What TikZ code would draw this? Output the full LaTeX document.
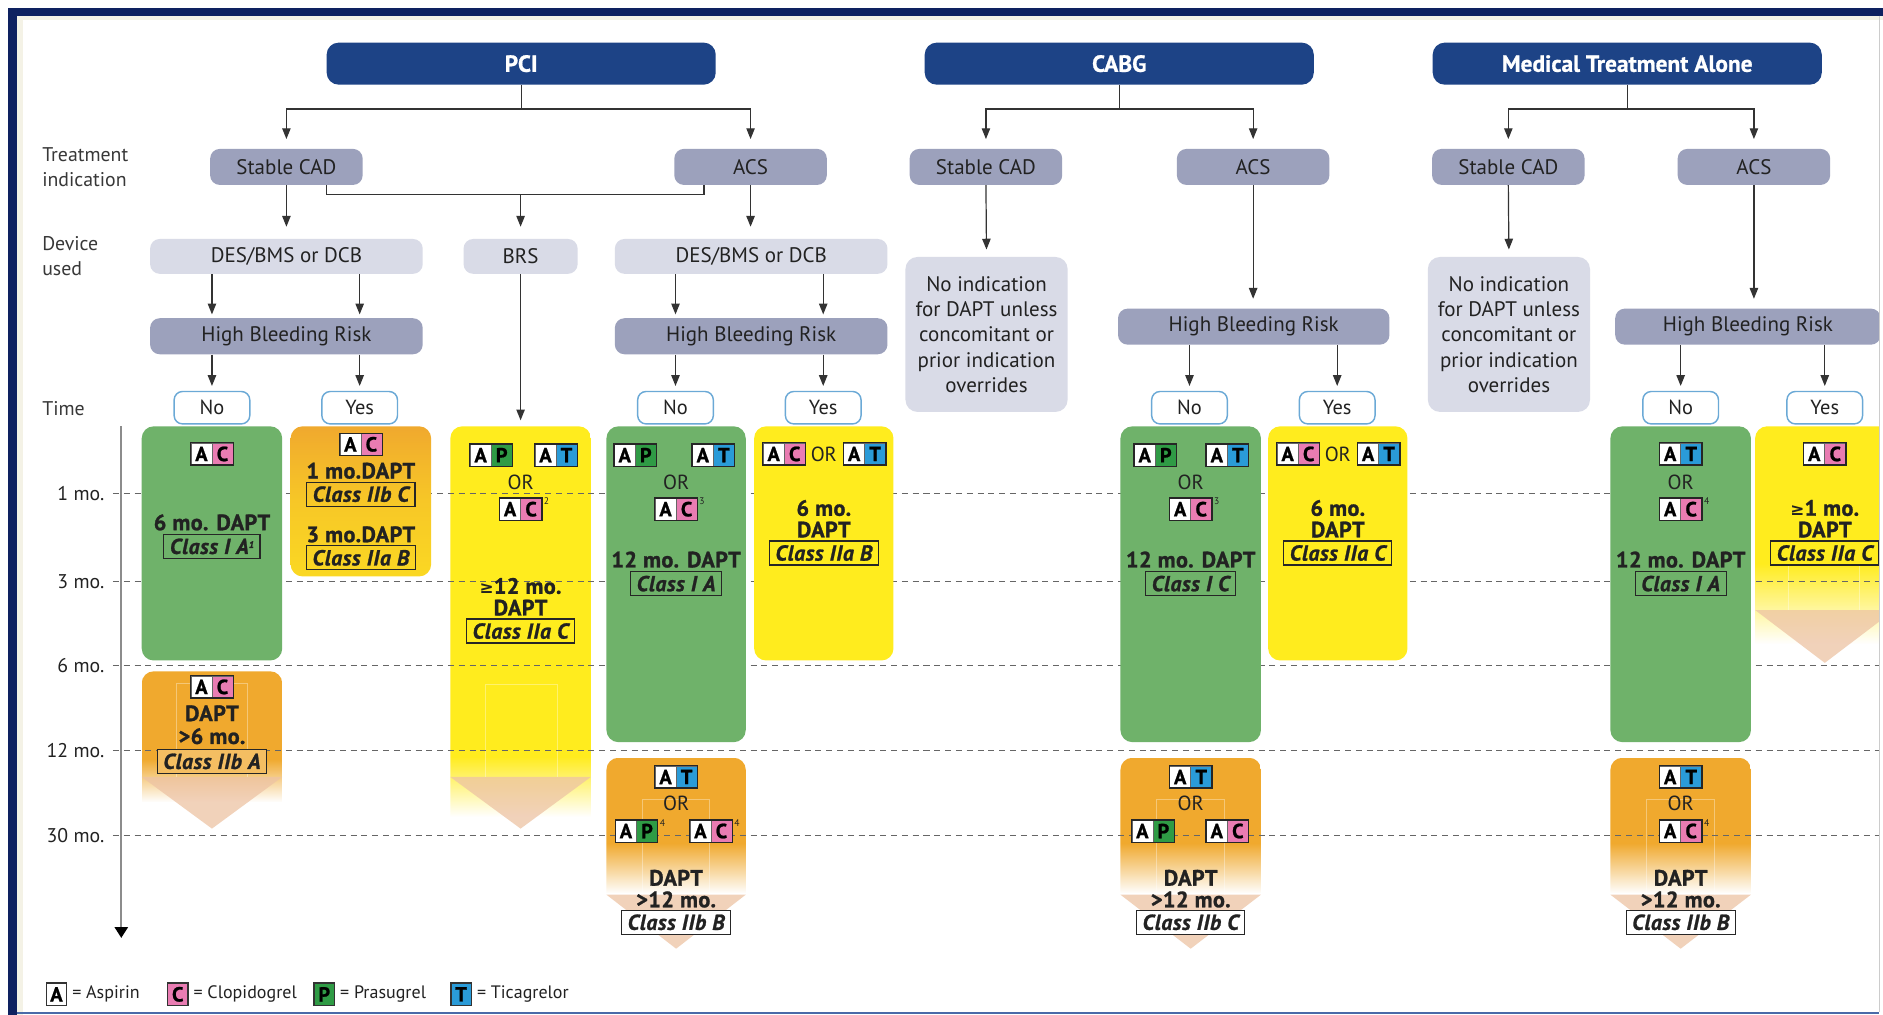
\documentclass[tikz,border=0pt]{standalone}
\usepackage{fontspec}
\setmainfont{PT Sans}
\newfontfamily\djv{DejaVu Sans}
\usetikzlibrary{arrows.meta,fadings,calc}
\definecolor{navyH}{HTML}{1D4386}
\definecolor{frameN}{HTML}{0E2160}
\definecolor{botL}{HTML}{4A6AA8}
\definecolor{greyB}{HTML}{9CA1BC}
\definecolor{greyL}{HTML}{D9DBE7}
\definecolor{ynB}{HTML}{6BA9D6}
\definecolor{grn}{HTML}{6FB26A}
\definecolor{org}{HTML}{F0A92E}
\definecolor{yel}{HTML}{FFEC1E}
\definecolor{peach}{HTML}{EDC3A4}
\definecolor{cPink}{HTML}{E97CB2}
\definecolor{cGreen}{HTML}{2F9B45}
\definecolor{cBlue}{HTML}{2A9BD8}
\definecolor{txt}{HTML}{222222}
\definecolor{lineC}{HTML}{333333}
\definecolor{cream}{HTML}{F4F2E6}
\newcommand{\fsz}[1]{\fontsize{#1}{#1}\selectfont}
\tikzfading[name=fadedown, top color=transparent!0, bottom color=transparent!100]
\tikzset{
  hdr/.style={fill=navyH, rounded corners=10pt, minimum width=324pt, minimum height=35pt, inner sep=0pt, text=white, font=\fsz{19.5}\bfseries\addfontfeatures{FakeBold=0.8}},
  tind/.style={fill=greyB, rounded corners=8pt, minimum width=127pt, minimum height=30pt, inner sep=0pt, text=txt, font=\fsz{17.5}},
  devb/.style={fill=greyL, rounded corners=8pt, minimum height=29pt, inner sep=0pt, text=txt, font=\fsz{17.5}},
  hbrb/.style={fill=greyB, rounded corners=8pt, minimum height=30pt, inner sep=0pt, text=txt, font=\fsz{17.5}},
  noind/.style={fill=greyL, rounded corners=10pt, minimum width=135pt, minimum height=129pt, inner sep=0pt, align=center, text=txt, font=\fontsize{17.5}{21}\selectfont},
  ynb/.style={draw=ynB, line width=1.2pt, fill=white, rounded corners=7pt, minimum width=63pt, minimum height=27pt, inner sep=0pt, text=txt, font=\fsz{17}},
  rowlab/.style={anchor=west, align=left, inner sep=0pt, text=txt!90, font=\fontsize{16.5}{21}\selectfont},
  tlab/.style={anchor=east, inner sep=0pt, text=txt, font=\fsz{16.5}},
  bt/.style={inner sep=0pt, text=txt, font=\fsz{18.5}\bfseries\addfontfeatures{FakeBold=1.2,LetterSpace=2}},
  cls/.style={draw=black!85, line width=1pt, inner xsep=5pt, inner ysep=1pt, minimum height=20pt, text=txt, font=\fsz{18}\bfseries\itshape\addfontfeatures{FakeBold=1.2,LetterSpace=3}},
  ortxt/.style={inner sep=0pt, text=txt, font=\fsz{17}},
  sq/.style={minimum width=17.5pt, minimum height=18pt, inner sep=0pt, draw=black!60, line width=0.5pt, text=black, font=\fsz{17}\bfseries\addfontfeatures{FakeBold=1}},
  supn/.style={anchor=south west, inner sep=0.5pt, text=txt, font=\fsz{8}},
  legt/.style={anchor=west, inner sep=0pt, text=txt, font=\fsz{15}},
  gbox/.style={fill=grn, rounded corners=10pt, inner sep=0pt},
  ybox/.style={fill=yel, rounded corners=10pt, inner sep=0pt},
  line/.style={draw=lineC, line width=1pt},
  arr/.style={draw=lineC, line width=1pt, -{Triangle[length=9pt,width=7pt]}, shorten >=4pt},
  dashl/.style={draw=black!60, line width=0.8pt, dash pattern=on 5pt off 4pt},
  shaft/.style={draw=white, opacity=0.35, line width=0.8pt},
  tri/.style={fill=peach, opacity=0.75},
  pics/pair/.style n args={3}{code={
    \node[sq, fill=white] (-l) at (-8.75,0) {#1};
    \node[sq, fill=#3] (-r) at (8.75,0) {#2};
    \draw[black!85, line width=1pt] (-l.north west) rectangle (-r.south east);
  }}
}
\begin{document}
\begin{tikzpicture}[x=1pt,y=-1pt]
\useasboundingbox (0,0) rectangle (1568,845);
\fill[white] (0,0) rectangle (1568,845);
\fill[cream] (14,13) rectangle (19,845);
\fill[cream] (14,13) rectangle (1568,17);

\begin{scope}
\clip (14,13) rectangle (1565,843);

% ---------- fading arrow blocks ----------
\begin{scope}
\clip[rounded corners=10pt] (118,559) rectangle (235,700);
\fill[org] (118,559) rectangle (235,632);
\fill[org, path fading=fadedown] (118,632) rectangle (235,668);
\end{scope}
\fill[tri] (118,647) -- (235,647) -- (176.5,690) -- cycle;
\draw[shaft] (147,647) -- (147,569) -- (206,569) -- (206,647);
\begin{scope}
\clip[rounded corners=10pt] (375,355) rectangle (492,700);
\fill[yel] (375,355) rectangle (492,630);
\fill[yel, path fading=fadedown] (375,630) rectangle (492,680);
\end{scope}
\fill[tri] (375,647) -- (492,647) -- (433.5,690) -- cycle;
\draw[shaft] (404,647) -- (404,570) -- (464,570) -- (464,647);
\begin{scope}
\clip[rounded corners=10pt] (505,631) rectangle (621,800);
\fill[org] (505,631) rectangle (621,702);
\fill[org, path fading=fadedown] (505,702) rectangle (621,744);
\end{scope}
\fill[tri] (505,745) -- (621,745) -- (563,790) -- cycle;
\draw[shaft] (535,745) -- (535,666) -- (591,666) -- (591,745);
\begin{scope}
\clip[rounded corners=10pt] (933,631) rectangle (1050,800);
\fill[org] (933,631) rectangle (1050,702);
\fill[org, path fading=fadedown] (933,702) rectangle (1050,744);
\end{scope}
\fill[tri] (933,745) -- (1050,745) -- (991.5,790) -- cycle;
\draw[shaft] (963,745) -- (963,666) -- (1020,666) -- (1020,745);
\begin{scope}
\clip[rounded corners=10pt] (1341,631) rectangle (1458,800);
\fill[org] (1341,631) rectangle (1458,702);
\fill[org, path fading=fadedown] (1341,702) rectangle (1458,744);
\end{scope}
\fill[tri] (1341,745) -- (1458,745) -- (1399.5,790) -- cycle;
\draw[shaft] (1371,745) -- (1371,666) -- (1428,666) -- (1428,745);
\fill[yel, path fading=fadedown] (1461.5,469) rectangle (1577.5,536);
\fill[tri] (1461.5,508) -- (1577.5,508) -- (1519.5,552) -- cycle;
\draw[shaft] (1489,508) -- (1489,433) -- (1548,433) -- (1548,508);

% ---------- time axis and dashed lines ----------
\foreach \yy in {411,484,554,625,696} {\draw[dashl] (94,\yy) -- (1565,\yy);}
\draw[draw=black!45, line width=1.6pt, -{Triangle[length=9pt,width=11pt,color=black]}] (101,355) -- (101,781);
\node[tlab] (t1) at (87,411) {1 mo.};
\node[tlab] (t3) at (87,484) {3 mo.};
\node[tlab] (t6) at (87,554) {6 mo.};
\node[tlab] (t12) at (87,625) {12 mo.};
\node[tlab] (t30) at (87,696) {30 mo.};

% ---------- solid boxes ----------
\node[gbox, minimum width=117pt, minimum height=195pt] (g1) at (176.5,452.5) {};
\node[rounded corners=10pt, inner sep=0pt, minimum width=117pt, minimum height=125pt, top color=org, bottom color=yel!70!org, middle color=org!55!yel] (o1) at (300.5,417.5) {};
\node[gbox, minimum width=116pt, minimum height=263pt] (g2) at (563,486.5) {};
\node[ybox, minimum width=116pt, minimum height=195pt] (y2) at (686,452.5) {};
\node[gbox, minimum width=117pt, minimum height=263pt] (g3) at (991.5,486.5) {};
\node[ybox, minimum width=116pt, minimum height=195pt] (y3) at (1114,452.5) {};
\node[gbox, minimum width=117pt, minimum height=263pt] (g4) at (1399.5,486.5) {};
\begin{scope}
\clip[rounded corners=10pt] (1461.5,355) rectangle (1577.5,520);
\fill[yel] (1461.5,355) rectangle (1577.5,469.5);
\end{scope}

% ---------- block texts ----------
\pic (b1) at (176.5,378) {pair={A}{C}{cPink}};
\node[bt] (g1t) at (176.5,435) {6 mo. DAPT};
\node[cls] (g1c) at (176.5,455) {Class I A\raisebox{5pt}{\fsz{8}1}};
\pic (b2) at (176.5,572) {pair={A}{C}{cPink}};
\node[bt] (aT1) at (176.5,594) {DAPT};
\node[bt] (aT2) at (176.5,613) {>6 mo.};
\node[cls, fill=org!75!white] (aC) at (176.5,634) {Class IIb A};
\pic (b3) at (300.5,370) {pair={A}{C}{cPink}};
\node[bt] (o1t1) at (300.5,392) {1 mo.DAPT};
\node[cls] (o1c1) at (300.5,411.5) {Class IIb C};
\node[bt] (o1t2) at (300.5,445) {3 mo.DAPT};
\node[cls] (o1c2) at (300.5,464.5) {Class IIa B};
\pic (b4) at (409,379) {pair={A}{P}{cGreen}};
\pic (b5) at (463,379) {pair={A}{T}{cBlue}};
\node[ortxt] (bor) at (433.5,402) {OR};
\pic (b6) at (433.5,424) {pair={A}{C}{cPink}};
\node[supn] (s2) at ([xshift=1pt,yshift=-6pt]b6-r.north east) {2};
\node[bt] (bT1) at (433.5,488) {{\djv\fsz{14}≥}12 mo.};
\node[bt] (bT2) at (433.5,506) {DAPT};
\node[cls] (bC) at (433.5,525.5) {Class IIa C};
\pic (b7) at (529,379) {pair={A}{P}{cGreen}};
\pic (b8) at (594,379) {pair={A}{T}{cBlue}};
\node[ortxt] (g2or) at (563,402) {OR};
\pic (b9) at (563,424) {pair={A}{C}{cPink}};
\node[supn] (s3) at ([xshift=1pt,yshift=-6pt]b9-r.north east) {3};
\node[bt] (g2t) at (563,466) {12 mo. DAPT};
\node[cls] (g2c) at (563,486) {Class I A};
\pic (b10) at (563,647) {pair={A}{T}{cBlue}};
\node[ortxt] (cor) at (563,669) {OR};
\pic (b11) at (530,692) {pair={A}{P}{cGreen}};
\node[supn] (s4a) at ([xshift=1pt,yshift=-6pt]b11-r.north east) {4};
\pic (b12) at (592,692) {pair={A}{C}{cPink}};
\node[supn] (s4b) at ([xshift=1pt,yshift=-6pt]b12-r.north east) {4};
\node[bt] (cT1) at (563,731) {DAPT};
\node[bt] (cT2) at (563,749) {>12 mo.};
\node[cls, fill=white] (cC) at (563,768) {Class IIb B};
\pic (b13) at (653,378) {pair={A}{C}{cPink}};
\node[ortxt] (y2or) at (686,378) {OR};
\pic (b14) at (720,378) {pair={A}{T}{cBlue}};
\node[bt] (y2t1) at (686,423) {6 mo.};
\node[bt] (y2t2) at (686,441) {DAPT};
\node[cls] (y2c) at (686,460.5) {Class IIa B};
\pic (b15) at (962,379) {pair={A}{P}{cGreen}};
\pic (b16) at (1022,379) {pair={A}{T}{cBlue}};
\node[ortxt] (g3or) at (991.5,402) {OR};
\pic (b17) at (991.5,424) {pair={A}{C}{cPink}};
\node[supn] (s3b) at ([xshift=1pt,yshift=-6pt]b17-r.north east) {3};
\node[bt] (g3t) at (991.5,466) {12 mo. DAPT};
\node[cls] (g3c) at (991.5,486) {Class I C};
\pic (b18) at (991.5,647) {pair={A}{T}{cBlue}};
\node[ortxt] (dor) at (991.5,669) {OR};
\pic (b19) at (960,692) {pair={A}{P}{cGreen}};
\pic (b20) at (1022,692) {pair={A}{C}{cPink}};
\node[bt] (dT1) at (991.5,731) {DAPT};
\node[bt] (dT2) at (991.5,749) {>12 mo.};
\node[cls, fill=white] (dC) at (991.5,768) {Class IIb C};
\pic (b21) at (1081,378) {pair={A}{C}{cPink}};
\node[ortxt] (y3or) at (1114,378) {OR};
\pic (b22) at (1148,378) {pair={A}{T}{cBlue}};
\node[bt] (y3t1) at (1114,423) {6 mo.};
\node[bt] (y3t2) at (1114,441) {DAPT};
\node[cls] (y3c) at (1114,460.5) {Class IIa C};
\pic (b23) at (1399.5,378) {pair={A}{T}{cBlue}};
\node[ortxt] (g4or) at (1399.5,402) {OR};
\pic (b24) at (1399.5,424) {pair={A}{C}{cPink}};
\node[supn] (s4c) at ([xshift=1pt,yshift=-6pt]b24-r.north east) {4};
\node[bt] (g4t) at (1399.5,466) {12 mo. DAPT};
\node[cls] (g4c) at (1399.5,486) {Class I A};
\pic (b25) at (1399.5,647) {pair={A}{T}{cBlue}};
\node[ortxt] (eor) at (1399.5,669) {OR};
\pic (b26) at (1399.5,692) {pair={A}{C}{cPink}};
\node[supn] (s4d) at ([xshift=1pt,yshift=-6pt]b26-r.north east) {4};
\node[bt] (eT1) at (1399.5,731) {DAPT};
\node[bt] (eT2) at (1399.5,749) {>12 mo.};
\node[cls, fill=white] (eC) at (1399.5,768) {Class IIb B};
\pic (b27) at (1519.5,378) {pair={A}{C}{cPink}};
\node[bt] (fT1) at (1519.5,423) {{\djv\fsz{14}≥}1 mo.};
\node[bt] (fT2) at (1519.5,441) {DAPT};
\node[cls] (fC) at (1519.5,460.5) {Class IIa C};
\coordinate (brsTop) at (433.5,355);

% ---------- flow chart ----------
\node[hdr] (pci) at (434,53) {PCI};
\node[hdr] (cabg) at (932,53) {CABG};
\node[hdr] (mta) at (1355,53) {Medical Treatment Alone};
\node[tind] (pciS) at (238.5,139) {Stable CAD};
\node[tind] (pciA) at (625,139) {ACS};
\node[tind] (cabgS) at (821,139) {Stable CAD};
\node[tind] (cabgA) at (1043.5,139) {ACS};
\node[tind] (mtaS) at (1256,139) {Stable CAD};
\node[tind] (mtaA) at (1460.5,139) {ACS};
\node[devb, minimum width=227pt] (des1) at (238.5,213.5) {DES/BMS or DCB};
\node[devb, minimum width=95pt] (brs) at (433.5,213.5) {BRS};
\node[devb, minimum width=227pt] (des2) at (625.5,213.5) {DES/BMS or DCB};
\node[hbrb, minimum width=227pt] (hbr1) at (238.5,280) {High Bleeding Risk};
\node[hbrb, minimum width=227pt] (hbr2) at (625.5,280) {High Bleeding Risk};
\node[hbrb, minimum width=226pt] (hbr3) at (1044,272) {High Bleeding Risk};
\node[hbrb, minimum width=221pt] (hbr4) at (1455.5,272) {High Bleeding Risk};
\node[noind] (ni1) at (821.5,278.5) {No indication\\for DAPT unless\\concomitant or\\prior indication\\overrides};
\node[noind] (ni2) at (1256.5,278.5) {No indication\\for DAPT unless\\concomitant or\\prior indication\\overrides};
\node[ynb] (no1) at (176.5,339.5) {No};
\node[ynb] (yes1) at (299.5,339.5) {Yes};
\node[ynb] (no2) at (562.5,339.5) {No};
\node[ynb] (yes2) at (685.5,339.5) {Yes};
\node[ynb] (no3) at (990.5,339.5) {No};
\node[ynb] (yes3) at (1113.5,339.5) {Yes};
\node[ynb] (no4) at (1399.5,339.5) {No};
\node[ynb] (yes4) at (1519.5,339.5) {Yes};

\node[rowlab] (lTI) at (35,139.5) {Treatment\\indication};
\node[rowlab] (lDU) at (35,213.5) {Device\\used};
\node[rowlab] (lTm) at (35,340) {Time};

\draw[arr, shorten >=8pt] (pci.south) -- ++(0,20) -| (pciS.north);
\draw[arr, shorten >=8pt] (pci.south) -- ++(0,20) -| (pciA.north);
\draw[arr, shorten >=8pt] (cabg.south) -- ++(0,20) -| (cabgS.north);
\draw[arr, shorten >=8pt] (cabg.south) -- ++(0,20) -| (cabgA.north);
\draw[arr, shorten >=8pt] (mta.south) -- ++(0,20) -| (mtaS.north);
\draw[arr, shorten >=8pt] (mta.south) -- ++(0,20) -| (mtaA.north);

\draw[arr, shorten >=10pt] (pciS.south) -- (pciS.south |- des1.north);
\draw[arr, shorten >=10pt] (pciA.south) -- (pciA.south |- des2.north);
\coordinate (jn) at (433.5,162);
\draw[line] ([xshift=-30pt]pciS.south east) |- (jn) -| ([xshift=25pt]pciA.south west);
\draw[arr, shorten >=10pt] (jn) -- (brs.north);

\draw[arr, shorten >=3pt] (des1.south -| no1.north) -- (hbr1.north -| no1.north);
\draw[arr, shorten >=3pt] (des1.south -| yes1.north) -- (hbr1.north -| yes1.north);
\draw[arr, shorten >=3pt] (des2.south -| no2.north) -- (hbr2.north -| no2.north);
\draw[arr, shorten >=3pt] (des2.south -| yes2.north) -- (hbr2.north -| yes2.north);
\draw[arr] (hbr1.south -| no1.north) -- (no1.north);
\draw[arr] (hbr1.south -| yes1.north) -- (yes1.north);
\draw[arr] (hbr2.south -| no2.north) -- (no2.north);
\draw[arr] (hbr2.south -| yes2.north) -- (yes2.north);
\draw[arr, shorten >=5pt] (brs.south) -- (brsTop);

\draw[arr, shorten >=6pt] (cabgS.south) -- (ni1.north);
\draw[arr, shorten >=8pt] (cabgA.south) -- (cabgA.south |- hbr3.north);
\draw[arr] (hbr3.south -| no3.north) -- (no3.north);
\draw[arr] (hbr3.south -| yes3.north) -- (yes3.north);
\draw[arr, shorten >=6pt] (mtaS.south) -- (ni2.north);
\draw[arr, shorten >=8pt] (mtaA.south) -- (mtaA.south |- hbr4.north);
\draw[arr] (hbr4.south -| no4.north) -- (no4.north);
\draw[arr] (hbr4.south -| yes4.north) -- (yes4.north);

\node[sq, fill=white, minimum width=17pt, minimum height=19pt, line width=1pt, draw=black!80] (lgA) at (47,828) {A};
\node[legt] (lgAt) at ([xshift=4pt]lgA.east) {= Aspirin};
\node[sq, fill=cPink, minimum width=17pt, minimum height=19pt, line width=1pt, draw=black!80] (lgC) at (148,828) {C};
\node[legt] (lgCt) at ([xshift=4pt]lgC.east) {= Clopidogrel};
\node[sq, fill=cGreen, minimum width=17pt, minimum height=19pt, line width=1pt, draw=black!80] (lgP) at (270,828) {P};
\node[legt] (lgPt) at ([xshift=4pt]lgP.east) {= Prasugrel};
\node[sq, fill=cBlue, minimum width=17pt, minimum height=19pt, line width=1pt, draw=black!80] (lgT) at (384,828) {T};
\node[legt] (lgTt) at ([xshift=4pt]lgT.east) {= Ticagrelor};
\end{scope}

\fill[frameN] (7,7) rectangle (1568,13);
\fill[frameN] (7,7) rectangle (14,845);
\draw[botL, line width=1pt] (14,843.5) -- (1565,843.5);
\draw[black!20, line width=0.8pt] (1565,13) -- (1565,843);
\end{tikzpicture}
\end{document}
